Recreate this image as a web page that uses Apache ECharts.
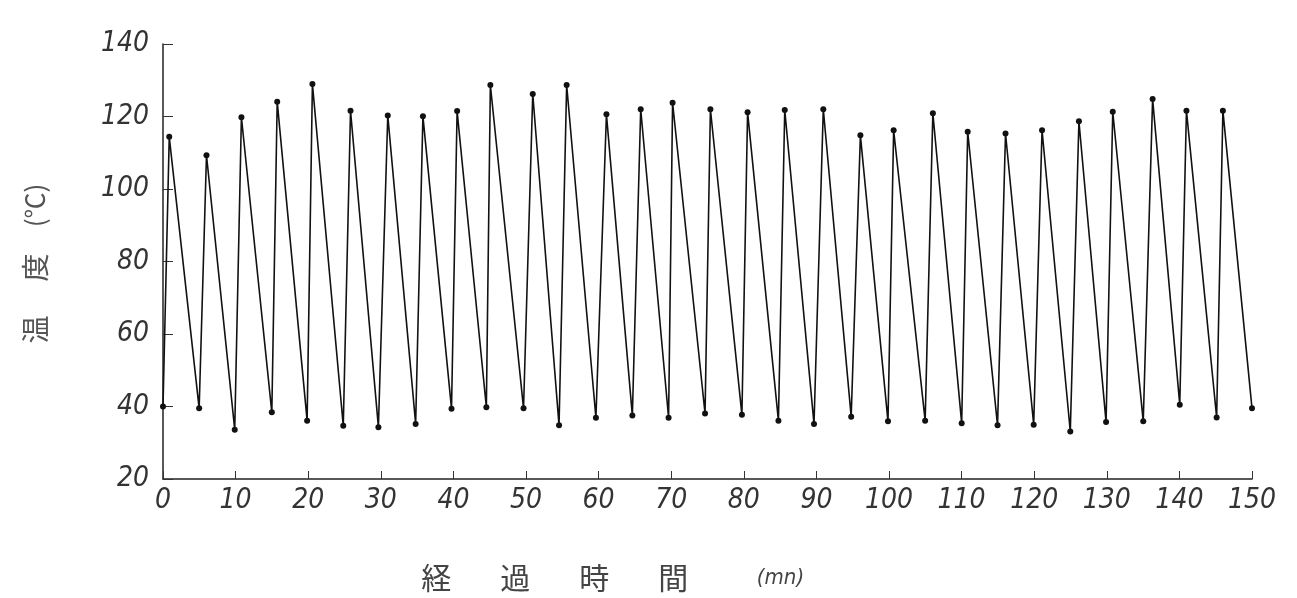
<!DOCTYPE html>
<html>
<head>
<meta charset="utf-8">
<script src="https://cdn.jsdelivr.net/npm/echarts@6/dist/echarts.min.js"></script>
<style>html,body{margin:0;padding:0;background:#fff;}#c{width:1297px;height:598px;}</style>
</head>
<body>
<div id="c"></div>
<script>
// elapsed time (min) of each recorded point
var times = [0, 0.86, 4.98, 5.99, 9.88, 10.8, 14.99, 15.73, 19.85, 20.58, 24.83, 25.83, 29.67, 30.96, 34.8, 35.8, 39.74, 40.51, 44.54, 45.09,
  49.66, 50.93, 54.55, 55.6, 59.63, 61.08, 64.65, 65.8, 69.64, 70.19, 74.66, 75.4, 79.74, 80.52, 84.77, 85.64, 89.67, 90.95, 94.79, 96.06,
  99.86, 100.64, 104.98, 106.04, 110.01, 110.84, 114.95, 116.05, 119.93, 121.08, 124.97, 126.16, 129.9, 130.82, 135.02, 136.31, 140.05, 140.97, 145.13, 145.99, 150];
// temperature (°C) at each point
var temps = [40, 114.4, 39.5, 109.3, 33.6, 119.8, 38.4, 124.1, 36.1, 129.0, 34.7, 121.6, 34.3, 120.3, 35.2, 120.1, 39.4, 121.5, 39.8, 128.7,
  39.5, 126.2, 34.8, 128.7, 36.9, 120.6, 37.5, 122.0, 36.9, 123.8, 38.1, 122.0, 37.7, 121.2, 36.1, 121.8, 35.2, 122.0, 37.2, 114.8,
  35.9, 116.2, 36.1, 120.9, 35.4, 115.8, 34.8, 115.3, 35.0, 116.2, 33.1, 118.7, 35.7, 121.3, 35.9, 124.8, 40.5, 121.6, 37.0, 121.6, 39.5];
var xTicks = [0, 10, 20, 30, 40, 50, 60, 70, 80, 90, 100, 110, 120, 130, 140, 150];
var yTicks = [20, 40, 60, 80, 100, 120, 140];

var pts = times.map(function (t, i) { return [t, temps[i]]; });
var chart = echarts.init(document.getElementById('c'), null, { renderer: 'canvas' });
var labelFont = "'DejaVu Sans Condensed','Liberation Sans Narrow','Liberation Sans',sans-serif";
var cjk = "'Noto Sans CJK JP',sans-serif";
chart.setOption({
  backgroundColor: '#fff',
  animation: false,
  grid: { left: 163, right: 45, top: 44, bottom: 119 },
  xAxis: {
    type: 'value', min: xTicks[0], max: xTicks[xTicks.length - 1], interval: 10,
    axisLine: { lineStyle: { color: '#222', width: 1.5 } },
    axisTick: { inside: true, length: 8, lineStyle: { color: '#333' } },
    splitLine: { show: false },
    axisLabel: { color: '#333', fontSize: 28, fontStyle: 'italic', fontFamily: labelFont, margin: 8 },
    name: '{a|経}{a|過}{a|時}{a|間}{g|}{u|(mn)}', nameLocation: 'middle', nameGap: 84,
    nameTextStyle: {
      padding: [0, 214, 0, 0],
      rich: {
        a: { width: 79, align: 'center', fontSize: 30, color: '#444', fontFamily: cjk },
        g: { width: 44 },
        u: { fontSize: 22, fontStyle: 'italic', color: '#444', fontFamily: labelFont }
      }
    }
  },
  yAxis: {
    type: 'value', min: yTicks[0], max: yTicks[yTicks.length - 1], interval: 20,
    axisLine: { show: true, lineStyle: { color: '#222', width: 1.5 } },
    axisTick: { show: true, inside: true, length: 10, lineStyle: { color: '#333' } },
    splitLine: { show: false },
    axisLabel: { color: '#333', fontSize: 28, fontStyle: 'italic', fontFamily: labelFont, margin: 14 },
    name: '{a|温}{a|度}{b|(℃)}', nameLocation: 'middle', nameRotate: 90, nameGap: 114,
    nameTextStyle: {
      padding: [0, 12, 0, 0],
      rich: {
        a: { width: 62, align: 'center', fontSize: 28, color: '#555', fontFamily: cjk },
        b: { width: 62, align: 'center', fontSize: 26, color: '#555', fontFamily: cjk }
      }
    }
  },
  series: [{
    type: 'line', data: pts, symbol: 'circle', symbolSize: 6, showAllSymbol: true,
    lineStyle: { color: '#111', width: 1.6 }, itemStyle: { color: '#111' }
  }]
});
</script>
</body>
</html>
